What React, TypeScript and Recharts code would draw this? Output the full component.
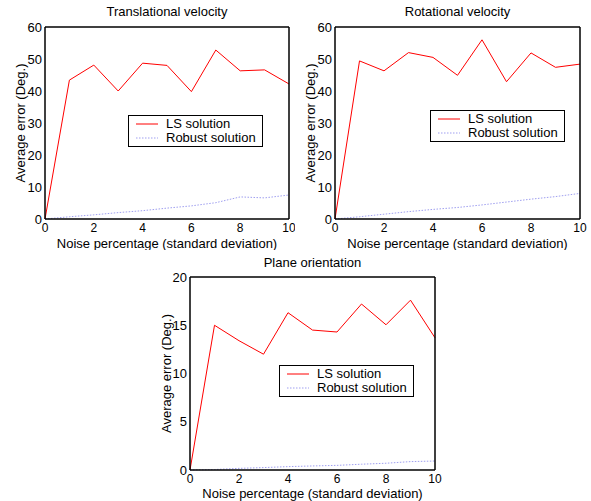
import React from "react";
import { Legend, Line, LineChart, XAxis, YAxis } from "recharts";

const noise = [0, 1, 2, 3, 4, 5, 6, 7, 8, 9, 10];
const xTicks = [0, 2, 4, 6, 8, 10];

const transLS = [0, 43.4, 48.1, 40, 48.7, 48, 39.8, 52.8, 46.3, 46.6, 42.2];
const transRobust = [0, 0.7, 1.3, 2.0, 2.6, 3.4, 4.1, 5.1, 6.9, 6.6, 7.5];

const rotLS = [0, 49.4, 46.3, 52, 50.5, 44.9, 56, 42.9, 51.9, 47.4, 48.4];
const rotRobust = [0, 0.7, 1.5, 2.3, 3.0, 3.6, 4.4, 5.3, 6.2, 7.0, 8.0];

const planeLS = [0, 15.0, 13.4, 12.0, 16.3, 14.5, 14.3, 17.2, 15.05, 17.6, 13.7];
const planeRobust = [0, 0.05, 0.17, 0.25, 0.35, 0.42, 0.48, 0.6, 0.7, 0.87, 0.93];

const velocityTicks = [0, 10, 20, 30, 40, 50, 60];
const planeTicks = [0, 5, 10, 15, 20];

const font = "'Liberation Sans', Arial, Helvetica, sans-serif";

function toRows(ls: number[], robust: number[]) {
  return noise.map((x, i) => ({ x, ls: ls[i], robust: robust[i] }));
}

function LegendBox(props: any) {
  const items = props.payload || [];
  return (
    <div
      style={{
        border: "1px solid #000",
        background: "#fff",
        width: 133,
        height: 30,
        fontFamily: font,
        fontSize: 13,
        color: "#000",
        boxSizing: "content-box",
      }}
    >
      {items.map((it: any, i: number) => (
        <div key={i} style={{ display: "flex", alignItems: "center", height: 14, marginTop: i === 0 ? 1 : 0 }}>
          <svg width={37} height={14}>
            <line
              x1={7}
              x2={29}
              y1={7}
              y2={7}
              stroke={it.color}
              strokeWidth={1}
              strokeDasharray={it.dataKey === "robust" ? "1.5 1.5" : undefined}
            />
          </svg>
          <span style={{ lineHeight: "14px" }}>{it.value}</span>
        </div>
      ))}
    </div>
  );
}

type PanelProps = {
  left: number;
  top: number;
  width: number;
  height: number;
  margin: { top: number; right: number; bottom: number; left: number };
  xAxisHeight: number;
  title: string;
  titleY: number;
  data: { x: number; ls: number; robust: number }[];
  yTicks: number[];
  yLabelOffset: number;
  xLabelOffset: number;
  legendX: number;
  legendY: number;
};

const frame = { stroke: "#000", strokeWidth: 1.5 };
const tickMark = { stroke: "#000", strokeWidth: 1 };

function Panel(p: PanelProps) {
  const yMax = p.yTicks[p.yTicks.length - 1];
  const plotLeft = p.margin.left + 35;
  const plotWidth = p.width - plotLeft - p.margin.right;
  return (
    <div style={{ position: "absolute", left: p.left, top: p.top, width: p.width, height: p.height }}>
      <div
        style={{
          position: "absolute",
          left: plotLeft,
          width: plotWidth,
          top: p.titleY - 8,
          textAlign: "center",
          fontSize: 13,
          lineHeight: "16px",
          zIndex: 2,
        }}
      >
        {p.title}
      </div>
      <LineChart width={p.width} height={p.height} data={p.data} margin={p.margin}>
        <XAxis
          dataKey="x"
          type="number"
          domain={[0, 10]}
          ticks={xTicks}
          height={p.xAxisHeight}
          tickLine={false}
          tickSize={0}
          tickMargin={4}
          axisLine={frame}
          tick={{ fill: "#000", fontSize: 12 }}
          label={{
            value: "Noise percentage (standard deviation)",
            position: "insideBottom",
            offset: p.xLabelOffset,
            fill: "#000",
            fontSize: 13,
          }}
        />
        <XAxis
          xAxisId="bt"
          dataKey="x"
          type="number"
          domain={[0, 10]}
          ticks={xTicks}
          mirror
          tick={false}
          tickSize={4}
          axisLine={false}
          tickLine={tickMark}
        />
        <XAxis
          xAxisId="tp"
          orientation="top"
          dataKey="x"
          type="number"
          domain={[0, 10]}
          ticks={xTicks}
          mirror
          tick={false}
          tickSize={4}
          axisLine={frame}
          tickLine={tickMark}
        />
        <YAxis
          type="number"
          domain={[0, yMax]}
          ticks={p.yTicks}
          width={35}
          tickLine={false}
          tickSize={0}
          tickMargin={3}
          axisLine={frame}
          tick={{ fill: "#000", fontSize: 13 }}
          label={{
            value: "Average error (Deg.)",
            angle: -90,
            position: "insideLeft",
            offset: p.yLabelOffset,
            fill: "#000",
            fontSize: 13,
            style: { textAnchor: "middle" },
          }}
        />
        <YAxis
          yAxisId="lt"
          type="number"
          domain={[0, yMax]}
          ticks={p.yTicks}
          mirror
          tick={false}
          tickSize={4}
          axisLine={false}
          tickLine={tickMark}
        />
        <YAxis
          yAxisId="rt"
          orientation="right"
          type="number"
          domain={[0, yMax]}
          ticks={p.yTicks}
          mirror
          tick={false}
          tickSize={4}
          axisLine={frame}
          tickLine={tickMark}
        />
        <Legend
          layout="vertical"
          align="center"
          verticalAlign="middle"
          content={LegendBox}
          wrapperStyle={{ left: p.legendX, top: p.legendY, width: 135 }}
        />
        <Line
          dataKey="ls"
          name="LS solution"
          stroke="#ff0000"
          strokeWidth={1}
          dot={false}
          activeDot={false}
          isAnimationActive={false}
        />
        <Line
          dataKey="robust"
          name="Robust solution"
          stroke="#9f9ff0"
          strokeWidth={1}
          strokeDasharray="1.5 1.5"
          dot={false}
          activeDot={false}
          isAnimationActive={false}
        />
      </LineChart>
    </div>
  );
}

export default function App() {
  return (
    <div
      style={{
        position: "absolute",
        left: 0,
        top: 0,
        width: 591,
        height: 501,
        background: "#fff",
        fontFamily: font,
        color: "#000",
        overflow: "hidden",
      }}
    >
      <Panel
        left={0}
        top={0}
        width={295}
        height={250}
        margin={{ top: 27, right: 6, bottom: 0, left: 10 }}
        xAxisHeight={31}
        title="Translational velocity"
        titleY={12}
        data={toRows(transLS, transRobust)}
        yTicks={velocityTicks}
        yLabelOffset={10}
        xLabelOffset={2}
        legendX={128}
        legendY={115}
      />
      <Panel
        left={295}
        top={0}
        width={296}
        height={250}
        margin={{ top: 27, right: 11, bottom: 0, left: 5 }}
        xAxisHeight={31}
        title="Rotational velocity"
        titleY={12}
        data={toRows(rotLS, rotRobust)}
        yTicks={velocityTicks}
        yLabelOffset={10}
        xLabelOffset={2}
        legendX={135}
        legendY={110}
      />
      <Panel
        left={145}
        top={250}
        width={300}
        height={251}
        margin={{ top: 27, right: 10, bottom: 0, left: 10 }}
        xAxisHeight={31}
        title="Plane orientation"
        titleY={13}
        data={toRows(planeLS, planeRobust)}
        yTicks={planeTicks}
        yLabelOffset={11}
        xLabelOffset={3}
        legendX={134}
        legendY={115}
      />
    </div>
  );
}
